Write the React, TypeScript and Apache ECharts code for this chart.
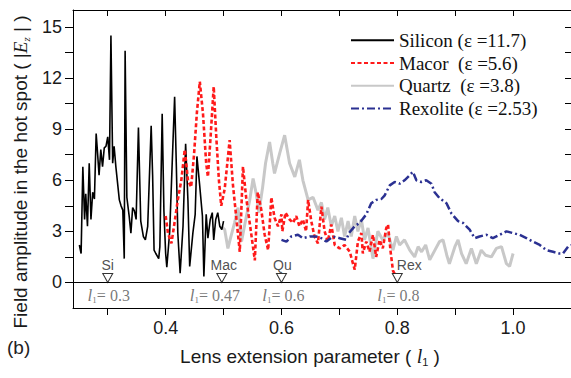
import React, { useEffect, useRef } from "react";
import * as echarts from "echarts";

const silicon: [number, number][] = [
  [0.251, 2.2], [0.254, 1.7], [0.257, 6.8], [0.26, 3.7], [0.262, 5.2], [0.265, 3.3], [0.268, 7.0],
  [0.271, 3.7], [0.274, 5.3], [0.277, 4.9], [0.28, 8.75], [0.282, 7.8], [0.285, 6.3], [0.288, 7.8],
  [0.291, 6.8], [0.294, 7.9], [0.297, 8.0], [0.3, 8.55], [0.303, 7.2], [0.3055, 14.5], [0.3085, 7.0],
  [0.311, 8.0], [0.314, 6.8], [0.32, 4.85], [0.323, 4.5], [0.326, 4.25], [0.3285, 1.4], [0.33, 13.6],
  [0.333, 5.0], [0.337, 3.9], [0.34, 2.9], [0.343, 4.4], [0.346, 4.2], [0.349, 3.7], [0.353, 9.1],
  [0.357, 3.6], [0.3615, 2.7], [0.365, 2.5], [0.369, 3.3], [0.375, 9.2], [0.3775, 6.3], [0.38, 1.9],
  [0.383, 1.7], [0.388, 1.4], [0.39, 2.1], [0.394, 9.9], [0.397, 4.2], [0.4, 1.7], [0.402, 0.9],
  [0.407, 3.0], [0.4155, 10.9], [0.4185, 6.8], [0.421, 2.9], [0.425, 0.55], [0.43, 3.3], [0.4345, 8.15],
  [0.4385, 4.8], [0.4415, 0.94], [0.447, 2.9], [0.451, 4.0], [0.454, 7.4], [0.4585, 5.8], [0.4635, 3.9],
  [0.466, 0.35], [0.47, 4.0], [0.473, 2.6], [0.477, 3.7], [0.4805, 4.1], [0.483, 2.5], [0.4865, 3.7],
  [0.49, 4.1], [0.4935, 3.3], [0.497, 3.1], [0.5, 3.6],
];

const macor: [number, number][] = [
  [0.4, 3.9], [0.404, 2.9], [0.41, 2.3], [0.414, 3.2], [0.421, 4.85], [0.427, 6.0], [0.433, 7.8],
  [0.4385, 6.0], [0.444, 5.6], [0.449, 7.5], [0.454, 10.0], [0.459, 11.8], [0.4645, 9.9], [0.47, 7.0],
  [0.473, 6.2], [0.4775, 8.5], [0.483, 11.5], [0.4875, 8.5], [0.492, 6.0], [0.496, 4.5], [0.502, 5.5],
  [0.5105, 8.36], [0.516, 5.8], [0.525, 2.8], [0.528, 1.8], [0.5335, 6.8], [0.539, 5.0], [0.548, 2.8],
  [0.554, 1.3], [0.559, 5.3], [0.565, 4.3], [0.571, 2.8], [0.577, 1.9], [0.5825, 5.0], [0.588, 3.8],
  [0.594, 3.3], [0.6, 4.0], [0.6015, 3.0], [0.607, 4.1], [0.614, 3.7], [0.62, 3.5], [0.6255, 3.9],
  [0.631, 3.3], [0.637, 3.7], [0.6425, 3.0], [0.646, 4.85], [0.6515, 3.6], [0.657, 2.7], [0.663, 2.3],
  [0.669, 4.45], [0.6745, 3.0], [0.68, 2.4], [0.686, 3.4], [0.692, 2.2], [0.7005, 2.0], [0.709, 2.2],
  [0.718, 1.8], [0.7235, 1.1], [0.7265, 0.75], [0.732, 2.4], [0.738, 2.9], [0.7405, 1.7], [0.7465, 2.4],
  [0.752, 1.8], [0.758, 2.8], [0.7635, 1.5], [0.7695, 2.5], [0.775, 2.0], [0.781, 3.2], [0.784, 3.4],
  [0.7885, 1.8], [0.7925, 0.7], [0.797, 0.4],
];

const quartz: [number, number][] = [
  [0.496, 3.3], [0.502, 3.1], [0.5075, 2.0], [0.512, 2.6], [0.519, 3.5], [0.525, 4.4], [0.531, 2.4],
  [0.5395, 3.9], [0.545, 4.8], [0.551, 6.1], [0.5565, 5.2], [0.561, 4.1], [0.5675, 5.6], [0.5725, 7.0],
  [0.5795, 8.25], [0.585, 7.0], [0.588, 6.4], [0.597, 7.6], [0.6055, 8.65], [0.614, 7.0], [0.623, 6.2],
  [0.631, 7.2], [0.637, 6.0], [0.646, 4.85], [0.6545, 5.0], [0.663, 4.25], [0.669, 4.7], [0.6745, 3.7],
  [0.68, 4.4], [0.686, 3.3], [0.692, 3.9], [0.6975, 3.0], [0.7035, 3.8], [0.709, 2.7], [0.715, 3.6],
  [0.7205, 2.7], [0.7265, 3.9], [0.732, 3.0], [0.738, 3.7], [0.7435, 2.5], [0.7495, 3.2], [0.758, 1.4],
  [0.7665, 3.0], [0.775, 2.5], [0.7835, 2.9], [0.7925, 1.9], [0.7985, 2.7], [0.804, 2.2], [0.8125, 2.5],
  [0.8215, 1.9], [0.83, 1.5], [0.836, 2.1], [0.842, 1.8], [0.849, 2.2], [0.856, 1.33], [0.865, 1.9],
  [0.873, 2.4], [0.879, 2.5], [0.8855, 1.6], [0.89, 1.1], [0.8995, 2.1], [0.905, 2.5], [0.911, 1.7],
  [0.919, 1.1], [0.928, 2.0], [0.9365, 1.1], [0.945, 1.9], [0.9525, 1.6], [0.9625, 1.5], [0.971, 2.0],
  [0.98, 2.1], [0.9885, 1.1], [0.994, 0.94], [1.0, 1.7],
];

const rexolite: [number, number][] = [
  [0.6, 2.5], [0.6085, 2.4], [0.617, 2.7], [0.6285, 2.8], [0.637, 2.6], [0.649, 2.7], [0.66, 2.7],
  [0.669, 2.6], [0.6775, 2.4], [0.689, 2.7], [0.7005, 2.6], [0.712, 2.5], [0.7165, 2.9], [0.7265, 3.3],
  [0.735, 3.5], [0.7465, 4.0], [0.755, 4.65], [0.764, 4.85], [0.7725, 4.9], [0.778, 5.1], [0.787, 5.7],
  [0.7955, 5.9], [0.804, 5.8], [0.8125, 6.0], [0.8215, 6.3], [0.827, 6.5], [0.833, 6.0], [0.8415, 5.9],
  [0.85, 6.0], [0.859, 5.8], [0.8645, 5.3], [0.873, 4.95], [0.885, 4.65], [0.8935, 4.05], [0.905, 3.6],
  [0.9135, 3.5], [0.925, 3.1], [0.9335, 2.6], [0.942, 2.7], [0.954, 2.8], [0.965, 2.6], [0.977, 2.8],
  [0.9885, 3.0], [1.0, 2.9], [1.011, 2.8], [1.023, 2.6], [1.034, 2.4], [1.046, 2.2], [1.0575, 1.9],
  [1.069, 1.8], [1.08, 1.7], [1.086, 1.7], [1.095, 2.1], [1.1, 2.2],
];

const seriesNames = [
  "Silicon (ε =11.7)",
  "Macor  (ε =5.6)",
  "Quartz  (ε =3.8)",
  "Rexolite (ε =2.53)",
];

const markerX = [0.3, 0.497, 0.6, 0.8];
const markerNames = ["Si", "Mac", "Qu", "Rex"];
const markerValues = ["0.3", "0.47", "0.6", "0.8"];

const xTickValues = [0.3, 0.4, 0.5, 0.6, 0.7, 0.8, 0.9, 1.0, 1.1];
const xLabelValues = [0.4, 0.6, 0.8, 1.0];
const yTickValues = [0, 1.5, 3, 4.5, 6, 7.5, 9, 10.5, 12, 13.5, 15];
const yLabelValues = [0, 3, 6, 9, 12, 15];

const SANS = "Liberation Sans, Arial, sans-serif";
const SERIF = "Liberation Serif, Times New Roman, serif";

export default function App() {
  const ref = useRef<HTMLDivElement>(null);
  useEffect(() => {
    if (!ref.current) return;
    const chart = echarts.init(ref.current, null, { renderer: "svg" });
    const labelOffsetTop = [0, 2, 1, 12];
    const labelOffsetBottom = [1, -7, 2, 1];
    const xAxisBase = {
      type: "value",
      min: 0.24,
      max: 1.1,
      splitLine: { show: false },
      axisLine: { show: true, onZero: false, lineStyle: { color: "#000", width: 1 } },
    };
    const yAxisBase = {
      type: "value",
      min: -1.5,
      max: 16,
      splitLine: { show: false },
      axisLine: { show: true, onZero: false, lineStyle: { color: "#000", width: 1 } },
    };
    chart.setOption({
      animation: false,
      grid: { left: 73, right: 0, top: 10, bottom: 70, containLabel: false },
      xAxis: [
        {
          ...xAxisBase,
          position: "bottom",
          axisTick: { show: true, inside: false, length: 7, customValues: xTickValues, lineStyle: { color: "#000" } },
          axisLabel: {
            show: true,
            customValues: xLabelValues,
            formatter: (v: number) => v.toFixed(1),
            fontFamily: SANS,
            fontSize: 18,
            color: "#1a1a1a",
            margin: 11,
          },
        },
        {
          ...xAxisBase,
          position: "top",
          axisTick: { show: true, inside: true, length: 6, customValues: xTickValues, lineStyle: { color: "#000" } },
          axisLabel: { show: false },
        },
      ],
      yAxis: [
        {
          ...yAxisBase,
          position: "left",
          axisTick: { show: true, inside: false, length: 8, customValues: yTickValues, lineStyle: { color: "#000" } },
          axisLabel: {
            show: true,
            customValues: yLabelValues,
            fontFamily: SANS,
            fontSize: 18,
            color: "#1a1a1a",
            margin: 11,
          },
        },
        {
          ...yAxisBase,
          position: "right",
          axisTick: { show: true, inside: true, length: 6, customValues: yTickValues, lineStyle: { color: "#000" } },
          axisLabel: { show: false },
        },
      ],
      legend: {
        orient: "vertical",
        left: 350,
        top: 29,
        padding: 0,
        itemWidth: 43,
        itemHeight: 14,
        itemGap: 0,
        data: seriesNames,
        itemStyle: { opacity: 0 },
        textStyle: { fontFamily: SERIF, fontSize: 19, color: "#111", lineHeight: 22.7 },
      },
      series: [
        {
          name: seriesNames[0],
          type: "line",
          data: silicon,
          symbol: "none",
          showSymbol: false,
          z: 3,
          lineStyle: { color: "#000", width: 1.6, type: "solid" },
          itemStyle: { color: "#000" },
          markLine: {
            silent: true,
            symbol: ["none", "none"],
            label: { show: false },
            lineStyle: { color: "#000", width: 1, type: "solid" },
            data: [{ yAxis: 0 }],
          },
        },
        {
          name: seriesNames[1],
          type: "line",
          data: macor,
          symbol: "none",
          showSymbol: false,
          z: 4,
          lineStyle: { color: "#ff1a1a", width: 2.6, type: [4, 2.5] },
          itemStyle: { color: "#ff1a1a" },
        },
        {
          name: seriesNames[2],
          type: "line",
          data: quartz,
          symbol: "none",
          showSymbol: false,
          z: 2,
          lineStyle: { color: "#c8c8c8", width: 3, type: "solid" },
          itemStyle: { color: "#c8c8c8" },
        },
        {
          name: seriesNames[3],
          type: "line",
          data: rexolite,
          symbol: "none",
          showSymbol: false,
          z: 5,
          lineStyle: { color: "#2b3192", width: 2.5, type: [8, 3, 2, 3] },
          itemStyle: { color: "#2b3192" },
        },
        {
          type: "scatter",
          z: 6,
          silent: true,
          symbol: "triangle",
          symbolRotate: 180,
          symbolSize: [10, 9],
          symbolOffset: [0, -4.5],
          itemStyle: { color: "#fff", borderColor: "#000", borderWidth: 1 },
          data: markerX.map((x, i) => ({
            value: [x, 0],
            label: { offset: [labelOffsetTop[i], 0] },
          })),
          label: {
            show: true,
            position: "top",
            distance: 1,
            formatter: (p: any) => markerNames[p.dataIndex],
            fontFamily: SANS,
            fontSize: 14,
            color: "#222",
          },
        },
        {
          type: "scatter",
          z: 6,
          silent: true,
          symbol: "circle",
          symbolSize: 0.1,
          itemStyle: { color: "rgba(0,0,0,0)" },
          data: markerX.map((x, i) => ({
            value: [x, 0],
            label: { offset: [labelOffsetBottom[i], 0] },
          })),
          label: {
            show: true,
            position: "bottom",
            distance: 4,
            formatter: (p: any) => `{i|l}{s|1}{n|= ${markerValues[p.dataIndex]}}`,
            rich: {
              i: { fontFamily: SERIF, fontStyle: "italic", fontSize: 17, color: "#555", lineHeight: 18 },
              s: { fontFamily: SERIF, fontSize: 9, color: "#555", lineHeight: 7, verticalAlign: "bottom" },
              n: { fontFamily: SERIF, fontSize: 16, color: "#555", lineHeight: 18 },
            },
          },
        },
      ],
      graphic: [
        {
          type: "text",
          x: 20,
          y: 172,
          rotation: Math.PI / 2,
          style: {
            text: "Field amplitude in the hot spot ( |{e|E}{z|z} | )",
            fontFamily: SANS,
            fontSize: 19,
            fill: "#1a1a1a",
            align: "center",
            verticalAlign: "middle",
            rich: {
              e: { fontFamily: SERIF, fontStyle: "italic", fontSize: 19, fill: "#1a1a1a", lineHeight: 22 },
              z: { fontFamily: SERIF, fontStyle: "italic", fontSize: 11, fill: "#1a1a1a", lineHeight: 11, verticalAlign: "bottom" },
            },
          },
        },
        {
          type: "text",
          x: 310,
          y: 356,
          style: {
            text: "Lens extension parameter ( {l|l}{s|1} )",
            fontFamily: SANS,
            fontSize: 19,
            fill: "#1a1a1a",
            align: "center",
            verticalAlign: "middle",
            rich: {
              l: { fontFamily: SERIF, fontStyle: "italic", fontSize: 20, fill: "#1a1a1a", lineHeight: 22 },
              s: { fontFamily: SANS, fontSize: 11, fill: "#1a1a1a", lineHeight: 11, verticalAlign: "bottom" },
            },
          },
        },
        {
          type: "text",
          x: 7,
          y: 347,
          style: {
            text: "(b)",
            fontFamily: SANS,
            fontSize: 19,
            fill: "#222",
            align: "left",
            verticalAlign: "middle",
          },
        },
      ],
    });
    return () => chart.dispose();
  }, []);
  return <div ref={ref} style={{ width: 571, height: 378, position: "absolute", left: 0, top: 0 }} />;
}
